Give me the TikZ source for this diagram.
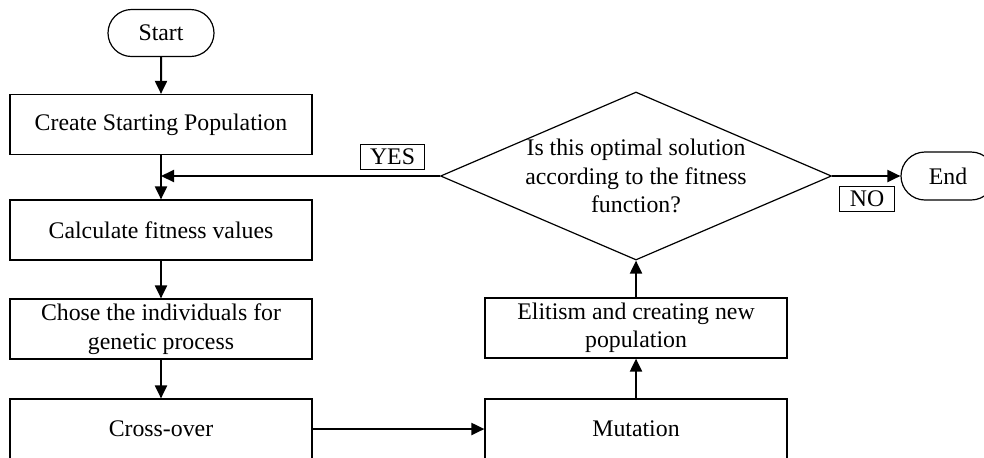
\documentclass[tikz,border=0pt]{standalone}
\usepackage{fontspec}
\setmainfont{Liberation Serif}
\usetikzlibrary{shapes.geometric,shapes.misc,arrows.meta}
\tikzset{
  every node/.style={font=\fontsize{11.9}{14.2}\selectfont},
  block/.style={draw, line width=0.6pt, minimum width=151pt, minimum height=30pt,
    align=center, inner sep=0pt},
  terminal/.style={draw, line width=0.6pt, rounded rectangle, inner sep=0pt},
  decision/.style={draw, line width=0.6pt, diamond, inner sep=0pt,
    minimum width=195.5pt, minimum height=84pt},
  tag/.style={draw, line width=0.5pt, inner xsep=5pt, inner ysep=0pt, minimum height=12.5pt},
  flow/.style={line width=1pt, -{Triangle[length=6.5pt, width=6pt]}}
}
\begin{document}
\begin{tikzpicture}[x=0.5pt, y=-0.5pt]
  \useasboundingbox (0,0) rectangle (984,457);
  \clip (0,0) rectangle (984,457); % la figura original esta recortada
  % columna izquierda
  \node[terminal, minimum width=53pt, minimum height=23.5pt] (start) at (161,33) {Start};
  \node[block] (create) at (161,124.5) {Create Starting Population};
  \node[block] (calc) at (161,230) {Calculate fitness values};
  \node[block] (chose) at (161,329) {Chose the individuals for\\genetic process};
  \node[block] (cross) at (161,429) {Cross-over};
  % columna derecha
  \node[block] (mutation) at (636,429) {Mutation};
  \node[block] (elitism) at (636,328) {Elitism and creating new\\population};
  \node[decision] (check) at (636,176) {};
  \node[align=center] (checktxt) at (check) {Is this optimal solution\\according to the fitness\\function?};
  \node[terminal, minimum width=47pt, minimum height=24pt] (end) at (948,176) {End};
  \node[tag] (yes) at (392.5,156.5) {YES};
  \node[tag] (no) at (867,198.5) {NO};
  % flechas
  \draw[flow] (start) -- (create);
  \draw[flow] (create) -- (calc);
  \draw[flow] (calc) -- (chose);
  \draw[flow] (chose) -- (cross);
  \draw[flow] (cross.east) -- (mutation.west);
  \draw[flow] (mutation) -- (elitism);
  \draw[flow] (elitism) -- (check.south);
  \draw[flow] (check.east) -- (end);
  \draw[flow] (check.west) -- (check.west -| create.south);
\end{tikzpicture}
\end{document}
